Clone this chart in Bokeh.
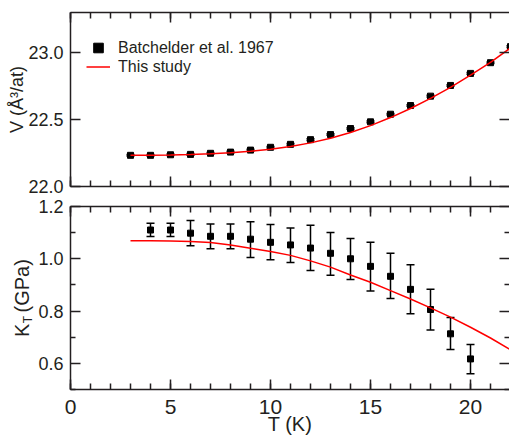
from bokeh.plotting import figure
from bokeh.models import (Range1d, LinearAxis, FixedTicker, Whisker, TeeHead,
                          ColumnDataSource, Legend, LegendItem)
from bokeh.layouts import column
from bokeh.embed import file_html
from bokeh.resources import INLINE

# ---------------- data ----------------
T_batch_V = [3, 4, 5, 6, 7, 8, 9, 10, 11, 12, 13, 14, 15, 16, 17, 18, 19, 20, 21, 22]
V_batch = [22.233, 22.233, 22.237, 22.240, 22.248, 22.257, 22.272, 22.293, 22.315, 22.350,
           22.388, 22.433, 22.483, 22.540, 22.605, 22.675, 22.755, 22.845, 22.925, 23.045]
V_err = [0.006, 0.006, 0.006, 0.006, 0.006, 0.006, 0.006, 0.006, 0.006, 0.006,
         0.006, 0.006, 0.006, 0.006, 0.006, 0.006, 0.006, 0.006, 0.006, 0.006]

T_fit = [3, 4, 5, 6, 7, 8, 9, 10, 11, 12, 13, 14, 15, 16, 17, 18, 19, 20, 21, 22]
V_fit = [22.233, 22.234, 22.236, 22.239, 22.244, 22.252, 22.263, 22.279, 22.299, 22.326,
         22.360, 22.403, 22.455, 22.515, 22.583, 22.658, 22.741, 22.832, 22.928, 23.035]

T_batch_K = [4, 5, 6, 7, 8, 9, 10, 11, 12, 13, 14, 15, 16, 17, 18, 19, 20]
K_batch = [1.110, 1.110, 1.098, 1.086, 1.086, 1.075, 1.063, 1.053, 1.041, 1.021,
           1.000, 0.971, 0.933, 0.883, 0.806, 0.713, 0.617]
K_upper = [1.136, 1.136, 1.146, 1.133, 1.133, 1.142, 1.131, 1.118, 1.128, 1.101,
           1.078, 1.063, 1.021, 0.977, 0.883, 0.775, 0.672]
K_lower = [1.085, 1.085, 1.050, 1.038, 1.038, 1.005, 0.996, 0.986, 0.955, 0.937,
           0.921, 0.877, 0.848, 0.790, 0.728, 0.653, 0.560]

K_fit = [1.069, 1.069, 1.068, 1.066, 1.062, 1.053, 1.040, 1.028, 1.013, 0.992,
         0.968, 0.938, 0.910, 0.878, 0.846, 0.812, 0.777, 0.738, 0.697, 0.652]

x_ticks = [0, 5, 10, 15, 20]
x_minor = list(range(0, 23))
x_tick_labels = ["0", "5", "10", "15", "20"]
v_ticks = [22.0, 22.5, 23.0]
v_tick_labels = ["22.0", "22.5", "23.0"]
k_ticks = [0.6, 0.8, 1.0, 1.2]
k_minor = [0.5, 0.7, 0.9, 1.1]
k_tick_labels = ["0.6", "0.8", "1.0", "1.2"]

legend_labels = ["Batchelder et al. 1967", "This study"]
v_axis_title = "V (Å³/at)"
t_axis_title = "T (K)"
NB = "\u00a0"
k_axis_main = "K" + NB * 2 + "(GPa)"     # K  (GPa)
k_axis_sub = "T" + NB * 13               # subscript T, padded to sit after the K

# ---------------- style ----------------
FONT = "Liberation Sans"
INK = "#231f20"
RED = "#ff0000"
W = 509


def style_axis(ax, ticks, minor, labels=None, font_size="18px", line=True,
               minor_len=6, standoff=7):
    ax.ticker = FixedTicker(ticks=ticks, minor_ticks=minor)
    ax.major_tick_in = 10
    ax.major_tick_out = 0
    ax.minor_tick_in = minor_len
    ax.minor_tick_out = 0
    ax.axis_line_color = INK if line else None
    ax.axis_line_width = 1.5
    ax.major_tick_line_color = INK
    ax.minor_tick_line_color = INK
    ax.major_tick_line_width = 1.5
    ax.minor_tick_line_width = 1.5
    if labels is None:
        ax.major_label_text_font_size = "1px"
        ax.major_label_text_color = None
        ax.major_label_standoff = 0
    else:
        ax.major_label_overrides = {t: s for t, s in zip(ticks, labels)}
        ax.major_label_text_font_size = font_size
        ax.major_label_text_font = FONT
        ax.major_label_text_color = INK
        ax.major_label_standoff = standoff


def style_title(ax, text, size, standoff):
    ax.axis_label = text
    ax.axis_label_text_font = FONT
    ax.axis_label_text_font_size = size
    ax.axis_label_text_font_style = "normal"
    ax.axis_label_text_color = INK
    ax.axis_label_standoff = standoff


x_range = Range1d(0, 21.95)

# ---------------- top panel ----------------
p1 = figure(width=W, height=196, x_range=x_range, y_range=Range1d(22.0, 23.3),
            output_backend="svg", toolbar_location=None,
            min_border_top=12, min_border_bottom=10, min_border_left=70, min_border_right=0)
p1.xgrid.visible = False
p1.ygrid.visible = False
p1.outline_line_color = None

style_axis(p1.xaxis[0], x_ticks, x_minor)
style_axis(p1.yaxis[0], v_ticks, [], v_tick_labels)
style_title(p1.yaxis[0], v_axis_title, "18px", -2)
ax_top1 = LinearAxis()
style_axis(ax_top1, x_ticks, x_minor)
p1.add_layout(ax_top1, "above")
ax_right1 = LinearAxis()
style_axis(ax_right1, v_ticks, [], line=False)
p1.add_layout(ax_right1, "right")

src_v = ColumnDataSource(dict(T=T_batch_V, V=V_batch,
                              hi=[v + e for v, e in zip(V_batch, V_err)],
                              lo=[v - e for v, e in zip(V_batch, V_err)]))
p1.add_layout(Whisker(source=src_v, base="T", upper="hi", lower="lo",
                      line_color="black", line_width=1.5,
                      upper_head=TeeHead(size=8, line_color="black", line_width=1.5),
                      lower_head=TeeHead(size=8, line_color="black", line_width=1.5)))
r_sq = p1.scatter("T", "V", source=src_v, marker="square", size=6,
                  fill_color="black", line_color="black")
r_line = p1.line(T_fit, V_fit, line_color=RED, line_width=1.5)

leg_common = dict(padding=0, margin=0, spacing=0, glyph_width=24, label_standoff=8,
                  border_line_color=None, background_fill_alpha=0,
                  label_text_font=FONT, label_text_font_size="16px", label_text_color=INK)
legend1 = Legend(items=[LegendItem(label=legend_labels[0], renderers=[r_sq])],
                 location=(16, 125), glyph_height=27, label_height=27, **leg_common)
legend2 = Legend(items=[LegendItem(label=legend_labels[1], renderers=[r_line])],
                 location=(16, 110), glyph_height=19, label_height=19, **leg_common)
p1.add_layout(legend1)
p1.add_layout(legend2)

# ---------------- bottom panel ----------------
p2 = figure(width=W, height=243, x_range=x_range, y_range=Range1d(0.5, 1.2),
            output_backend="svg", toolbar_location=None,
            min_border_top=10, min_border_bottom=50, min_border_left=70, min_border_right=0)
p2.xgrid.visible = False
p2.ygrid.visible = False
p2.outline_line_color = None

style_axis(p2.xaxis[0], x_ticks, x_minor, x_tick_labels, font_size="21px", standoff=10)
style_title(p2.xaxis[0], t_axis_title, "20px", -4)
style_axis(p2.yaxis[0], k_ticks, k_minor, k_tick_labels, minor_len=5)
style_title(p2.yaxis[0], k_axis_sub, "12px", 0)
# outer left axis that only carries the main part of the K_T title
ax_ktitle = LinearAxis(ticker=FixedTicker(ticks=[], minor_ticks=[]),
                       axis_line_color=None, major_tick_line_color=None,
                       minor_tick_line_color=None, major_tick_in=0, major_tick_out=0,
                       minor_tick_in=0, minor_tick_out=0, major_label_standoff=0)
style_title(ax_ktitle, k_axis_main, "20px", -14)
p2.add_layout(ax_ktitle, "left")
ax_top2 = LinearAxis()
style_axis(ax_top2, x_ticks, x_minor)
p2.add_layout(ax_top2, "above")
ax_right2 = LinearAxis()
style_axis(ax_right2, k_ticks, k_minor, line=False, minor_len=5)
p2.add_layout(ax_right2, "right")

src_k = ColumnDataSource(dict(T=T_batch_K, K=K_batch, hi=K_upper, lo=K_lower))
p2.add_layout(Whisker(source=src_k, base="T", upper="hi", lower="lo",
                      line_color="black", line_width=1.5,
                      upper_head=TeeHead(size=8, line_color="black", line_width=1.5),
                      lower_head=TeeHead(size=8, line_color="black", line_width=1.5)))
p2.scatter("T", "K", source=src_k, marker="square", size=6,
           fill_color="black", line_color="black")
p2.line(T_fit, K_fit, line_color=RED, line_width=1.5)

layout = column(p1, p2, spacing=0)
open("out.html", "w").write(file_html(layout, INLINE))
